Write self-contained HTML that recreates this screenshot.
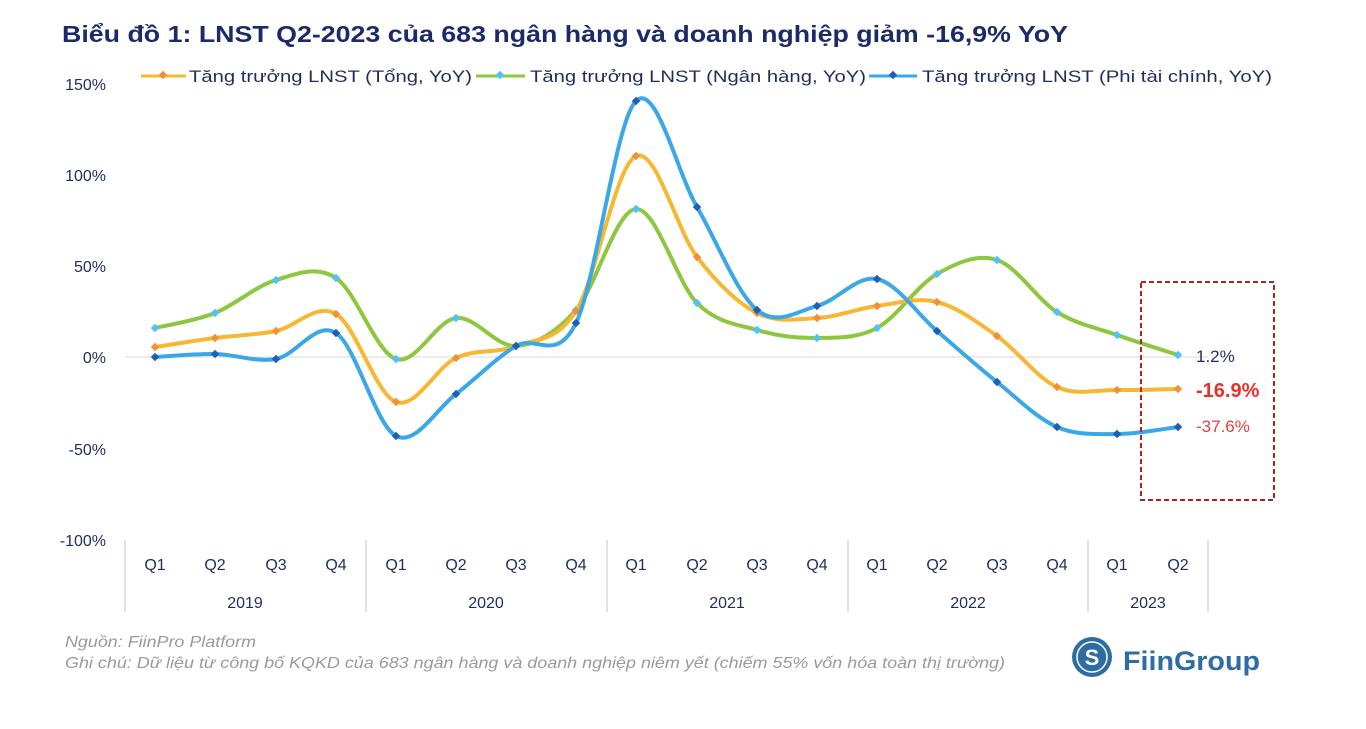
<!DOCTYPE html>
<html><head><meta charset="utf-8"><style>
body{margin:0;background:#fff;width:1366px;height:724px;overflow:hidden;font-family:"Liberation Sans",sans-serif}
</style></head><body>
<svg width="1366" height="724" xmlns="http://www.w3.org/2000/svg" font-family="Liberation Sans, sans-serif">
<text x="62" y="42" font-size="23" font-weight="bold" fill="#1b2a6b" textLength="1006" lengthAdjust="spacingAndGlyphs">Biểu đồ 1: LNST Q2-2023 của 683 ngân hàng và doanh nghiệp giảm -16,9% YoY</text>
<g font-size="17" fill="#1f2d5e">
<line x1="141" y1="76" x2="186" y2="76" stroke="#f7b731" stroke-width="3"/><rect x="160" y="72" width="6" height="6" transform="rotate(45 163 75)" fill="#f0903a"/>
<text x="189" y="82" textLength="283" lengthAdjust="spacingAndGlyphs">Tăng trưởng LNST (Tổng, YoY)</text>
<line x1="476" y1="76" x2="525" y2="76" stroke="#8dc63f" stroke-width="3"/><rect x="497" y="72" width="6" height="6" transform="rotate(45 500 75)" fill="#4fc3f7"/>
<text x="530" y="82" textLength="336" lengthAdjust="spacingAndGlyphs">Tăng trưởng LNST (Ngân hàng, YoY)</text>
<line x1="869" y1="76" x2="917" y2="76" stroke="#3aa8e8" stroke-width="3"/><rect x="890" y="72" width="6" height="6" transform="rotate(45 893 75)" fill="#1e5fb4"/>
<text x="922" y="82" textLength="350" lengthAdjust="spacingAndGlyphs">Tăng trưởng LNST (Phi tài chính, YoY)</text>
</g>
<g font-size="16" fill="#1f2d5e" text-anchor="end">
<text x="106" y="90">150%</text><text x="106" y="181">100%</text><text x="106" y="272">50%</text>
<text x="106" y="363">0%</text><text x="106" y="455">-50%</text><text x="106" y="546">-100%</text>
</g>
<line x1="125" y1="357" x2="1208" y2="357" stroke="#d9d9d9" stroke-width="1"/>
<g stroke="#d9d9d9" stroke-width="1.5">
<line x1="125" y1="540" x2="125" y2="612"/><line x1="366" y1="540" x2="366" y2="612"/><line x1="607" y1="540" x2="607" y2="612"/><line x1="848" y1="540" x2="848" y2="612"/><line x1="1088" y1="540" x2="1088" y2="612"/><line x1="1208" y1="540" x2="1208" y2="612"/>
</g>
<g font-size="16" fill="#1f2d5e" text-anchor="middle" id="q"></g>
<g font-size="16" fill="#1f2d5e" text-anchor="middle">
<text x="245" y="608">2019</text><text x="486" y="608">2020</text><text x="727" y="608">2021</text><text x="968" y="608">2022</text><text x="1148" y="608">2023</text>
</g>
<g id="lines"></g>
<rect x="1141" y="282" width="133" height="218" fill="none" stroke="#b22222" stroke-width="2" stroke-dasharray="5,3"/>
<text x="1196" y="362" font-size="17" fill="#1f2d5e">1.2%</text>
<text x="1196" y="397" font-size="20" font-weight="bold" fill="#e8312a">-16.9%</text>
<text x="1196" y="432" font-size="17" fill="#e8413a">-37.6%</text>
<g font-size="16" font-style="italic" fill="#9a9a9a">
<text x="65" y="647" textLength="191" lengthAdjust="spacingAndGlyphs">Nguồn: FiinPro Platform</text>
<text x="65" y="668" textLength="940" lengthAdjust="spacingAndGlyphs">Ghi chú: Dữ liệu từ công bố KQKD của 683 ngân hàng và doanh nghiệp niêm yết (chiếm 55% vốn hóa toàn thị trường)</text>
</g>
<circle cx="1092" cy="657" r="20" fill="#2e6da4"/><circle cx="1092" cy="657" r="15" fill="none" stroke="#fff" stroke-width="1.5"/>
<text x="1092" y="665" font-size="22" font-weight="bold" fill="#fff" text-anchor="middle">S</text>
<text x="1123" y="670" font-size="27" font-weight="bold" fill="#2e6da4" textLength="137" lengthAdjust="spacingAndGlyphs">FiinGroup</text>
</svg>
<script>
const X=[155,215,276,336,396,456,516,576,636,697,757,817,877,937,997,1057,1117,1178];
const S={
o:[347,338,331,314,402,358,346,311,156,257,313,318,306,302,336,387,390,389],
g:[328,313,280,278,359,318,346,310,209,303,330,338,328,274,260,312,335,355],
b:[357,354,359,333,436,394,346,323,101,207,310,306,279,331,382,427,434,427]};
function path(Y){let d=`M${X[0]},${Y[0]}`;for(let i=0;i<X.length-1;i++){const p0=[X[Math.max(0,i-1)],Y[Math.max(0,i-1)]],p1=[X[i],Y[i]],p2=[X[i+1],Y[i+1]],p3=[X[Math.min(X.length-1,i+2)],Y[Math.min(X.length-1,i+2)]];const t=6;d+=` C${p1[0]+(p2[0]-p0[0])/t},${p1[1]+(p2[1]-p0[1])/t} ${p2[0]-(p3[0]-p1[0])/t},${p2[1]-(p3[1]-p1[1])/t} ${p2[0]},${p2[1]}`;}return d;}
const cfg=[['g','#8dc63f','#4fc3f7'],['o','#f7b731','#f0903a'],['b','#3aa8e8','#1e5fb4']];
let h='';
for(const [k,c,m] of cfg){h+=`<path d="${path(S[k])}" fill="none" stroke="${c}" stroke-width="4"/>`;
S[k].forEach((y,i)=>{h+=`<rect x="${X[i]-3}" y="${y-3}" width="6" height="6" fill="${m}" transform="rotate(45 ${X[i]} ${y})"/>`;});}
document.getElementById('lines').innerHTML=h;
let q='';X.forEach((x,i)=>{q+=`<text x="${x}" y="570">Q${i%4+1}</text>`;});
document.getElementById('q').innerHTML=q;
</script>
</body></html>
